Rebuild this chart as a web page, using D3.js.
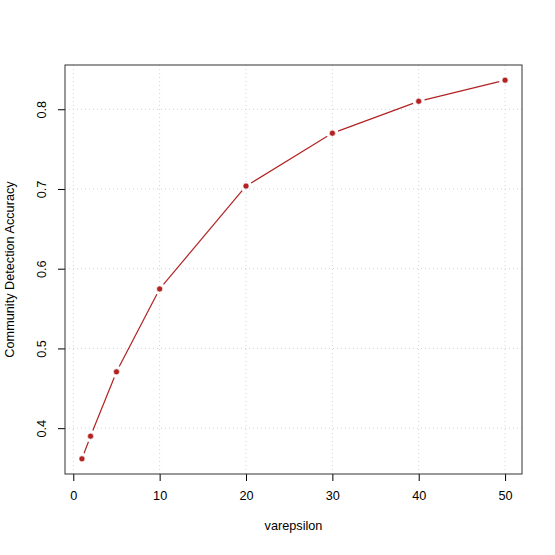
<!DOCTYPE html>
<html>
<head>
<meta charset="utf-8">
<script src="https://cdn.jsdelivr.net/npm/d3@7"></script>
<style>
  body { margin: 0; background: #fff; }
  text { font-family: "Liberation Sans", Arial, sans-serif; }
</style>
</head>
<body>
<div id="chart"></div>
<script>
// data
const epsilons = [1, 2, 5, 10, 20, 30, 40, 50];
const accuracy = [0.3615, 0.390, 0.4706, 0.5746, 0.7036, 0.770, 0.810, 0.8365];
const xTicks = [0, 10, 20, 30, 40, 50];
const yTicks = [0.4, 0.5, 0.6, 0.7, 0.8];

const W = 555, H = 555;
const box = { left: 65, right: 522, top: 65, bottom: 474 };
const fs = "12.7px";

const svg = d3.select("#chart").append("svg")
    .attr("width", W)
    .attr("height", H);

// R style 4% padding on each side
const xr = d3.extent(epsilons), yr = d3.extent(accuracy);
const xp = (xr[1] - xr[0]) * 0.04, yp = (yr[1] - yr[0]) * 0.04;
const x = d3.scaleLinear().domain([xr[0] - xp, xr[1] + xp]).range([box.left, box.right]);
const y = d3.scaleLinear().domain([yr[0] - yp, yr[1] + yp]).range([box.bottom, box.top]);

// dotted grid
svg.selectAll(".xgrid").data(xTicks).join("line")
    .attr("x1", d => x(d)).attr("x2", d => x(d))
    .attr("y1", box.top).attr("y2", box.bottom)
    .attr("stroke", "#d3d3d3").attr("stroke-dasharray", "1,3");
svg.selectAll(".ygrid").data(yTicks).join("line")
    .attr("x1", box.left).attr("x2", box.right)
    .attr("y1", d => y(d)).attr("y2", d => y(d))
    .attr("stroke", "#d3d3d3").attr("stroke-dasharray", "1,3");

// axes
svg.append("g")
    .attr("transform", `translate(0,${box.bottom})`)
    .call(d3.axisBottom(x).tickValues(xTicks).tickSize(7).tickPadding(10))
    .call(g => g.select(".domain").remove())
    .selectAll("text").style("font-size", fs).attr("fill", "#000");

// y labels are rotated like R's las = 0
svg.append("g")
    .attr("transform", `translate(${box.left},0)`)
    .call(d3.axisLeft(y).tickValues(yTicks).tickFormat(d3.format(".1f")).tickSize(7))
    .call(g => g.select(".domain").remove())
    .selectAll("text")
    .style("font-size", fs).attr("fill", "#000")
    .attr("text-anchor", "middle")
    .attr("x", 0).attr("y", 0)
    .attr("transform", "translate(-23,0) rotate(-90)")
    .attr("dy", "0.35em");

// box
svg.append("rect")
    .attr("x", box.left).attr("y", box.top)
    .attr("width", box.right - box.left).attr("height", box.bottom - box.top)
    .attr("fill", "none").attr("stroke", "#333");

// line segments with gaps around the points (type = "b")
const pts = epsilons.map((e, i) => [x(e), y(accuracy[i])]);
const gap = 6;
const segs = d3.pairs(pts).map(([a, b]) => {
  const dx = b[0] - a[0], dy = b[1] - a[1], len = Math.hypot(dx, dy);
  if (len <= 2 * gap) return null;
  const ux = dx / len, uy = dy / len;
  return [a[0] + ux * gap, a[1] + uy * gap, b[0] - ux * gap, b[1] - uy * gap];
}).filter(d => d);
svg.selectAll(".seg").data(segs).join("line")
    .attr("x1", d => d[0]).attr("y1", d => d[1])
    .attr("x2", d => d[2]).attr("y2", d => d[3])
    .attr("stroke", "#b22222").attr("stroke-width", 1.2);

svg.selectAll(".pt").data(epsilons).join("circle")
    .attr("cx", d => x(d))
    .attr("cy", (d, i) => y(accuracy[i]))
    .attr("r", 3)
    .attr("fill", "#b22222")
    .attr("stroke", "#fff").attr("stroke-width", 0.6);

// axis titles
svg.append("text")
    .attr("x", (box.left + box.right) / 2).attr("y", 530)
    .attr("text-anchor", "middle").style("font-size", fs)
    .text("varepsilon");
svg.append("text")
    .attr("transform", `translate(14,${(box.top + box.bottom) / 2}) rotate(-90)`)
    .attr("text-anchor", "middle").style("font-size", fs)
    .text("Community Detection Accuracy");
</script>
</body>
</html>
